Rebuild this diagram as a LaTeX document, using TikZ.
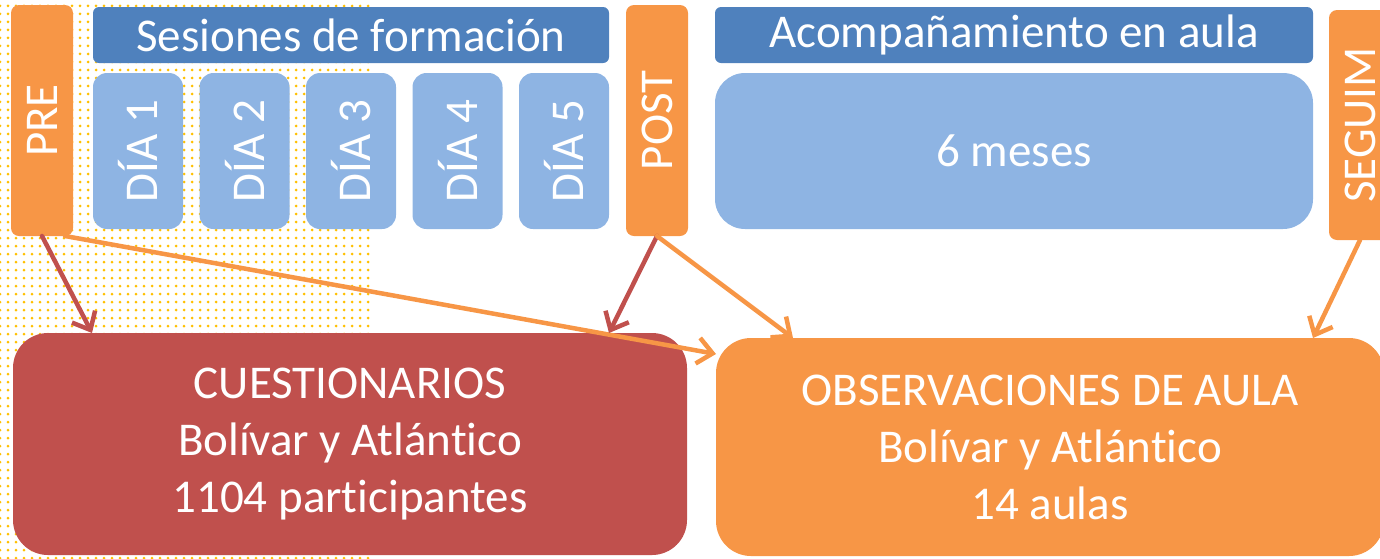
\documentclass[tikz,border=0pt]{standalone}
\usepackage{fontspec}
\setmainfont[Ligatures=NoCommon]{Carlito}
\usepackage{tikz}
\usetikzlibrary{positioning}
\usetikzlibrary{arrows.meta,patterns.meta}
\definecolor{tagorange}{HTML}{F79646}
\definecolor{boxred}{HTML}{C0504D}
\definecolor{headblue}{HTML}{4F81BD}
\definecolor{diablue}{HTML}{8EB4E3}
\definecolor{dotyellow}{HTML}{FFC000}
\newcommand{\tagwidth}{62pt}
\newcommand{\tagheight}{231pt}
\newcommand{\bannerheight}{56pt}
\newcommand{\diawidth}{90pt}
\newcommand{\diaheight}{156pt}
\newcommand{\boxfont}{\fontsize{47}{57}\selectfont}

\begin{document}
\begin{tikzpicture}[x=1pt, y=-1pt, node distance=16.5pt, outer sep=0pt]
\tikzstyle{tag}=[
    rectangle,
    rounded corners=8pt,
    minimum height=\tagheight,
    minimum width=\tagwidth,
    inner sep=0pt,
    fill=tagorange,
    text=white,
    font=\boxfont,
    anchor=north west]
\tikzstyle{header}=[
    rectangle,
    rounded corners=6pt,
    minimum height=\bannerheight,
    inner sep=0pt,
    fill=headblue,
    text=white,
    font=\boxfont,
    anchor=north west]
\tikzstyle{dia}=[
    rectangle,
    rounded corners=14pt,
    minimum height=\diaheight,
    minimum width=\diawidth,
    inner sep=0pt,
    fill=diablue,
    text=white,
    font=\boxfont,
    anchor=north west]
\tikzstyle{result}=[
    rectangle,
    rounded corners=35pt,
    inner sep=0pt,
    align=center,
    text=white,
    font=\boxfont,
    anchor=north west]
\tikzstyle{link}=[
    line width=4.5pt,
    line cap=round,
    -{Straight Barb[length=15pt,width=26pt]}]
\useasboundingbox (0,0) rectangle (1380,558);
\clip (0,0) rectangle (1380,558);
% dotted background
\fill[pattern={Dots[distance=8pt,radius=1.5pt]}, pattern color=dotyellow] (0,0) rectangle (370,558);

\node[tag] (pre) at(11,5) {\rotatebox{90}{PRE}};
\node[header, minimum width=516pt] (sesiones) at(93,7) {Sesiones de formación};
\node[dia] (dia1) at(93,73) {\rotatebox{90}{DÍA 1}};
\node[dia] (dia2) [right = of dia1] {\rotatebox{90}{DÍA 2}};
\node[dia] (dia3) [right = of dia2] {\rotatebox{90}{DÍA 3}};
\node[dia] (dia4) [right = of dia3] {\rotatebox{90}{DÍA 4}};
\node[dia] (dia5) [right = of dia4] {\rotatebox{90}{DÍA 5}};
\node[tag] (post) at(626,5) {\rotatebox{90}{POST}};
\node[header, minimum width=598pt] (acomp) at(715,7) {Acompañamiento en aula};
\node[dia, rounded corners=30pt, minimum width=598pt] (meses) at(715,73) {6 meses};
\node[tag, minimum height=230pt] (seguim) at(1329,10) {\rotatebox{90}{SEGUIM}};

\node[result, fill=boxred, minimum width=674pt, minimum height=222pt] (cuest) at(13,333)
    {CUESTIONARIOS\\Bolívar y Atlántico\\1104 participantes};
\node[result, fill=tagorange, minimum width=668pt, minimum height=218pt] (obs) at(716,338)
    {OBSERVACIONES DE AULA\\Bolívar y Atlántico\\14 aulas};

\draw[link, boxred] (pre.south) -- ([xshift=79pt]cuest.north west);
\draw[link, tagorange] ([xshift=-8pt]pre.south east) -- ([yshift=-16pt]obs.north west);
\draw[link, boxred] (post.south) -- ([xshift=-78pt]cuest.north east);
\draw[link, tagorange] (post.south) -- ([xshift=77pt]obs.north west);
\draw[link, tagorange] (seguim.south) -- ([xshift=-71pt]obs.north east);

\end{tikzpicture}
\end{document}
